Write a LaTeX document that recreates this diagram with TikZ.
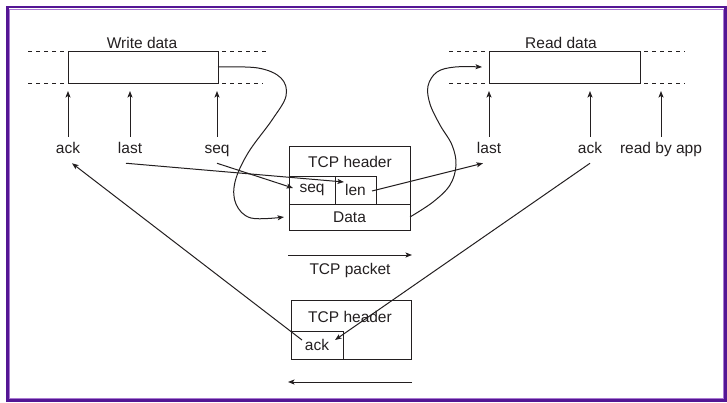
\documentclass[tikz,border=0pt]{standalone}
\usepackage{fontspec}
\setmainfont{Liberation Sans}
\usetikzlibrary{arrows.meta}
\definecolor{ink}{RGB}{35,31,32}
\definecolor{framedark}{RGB}{84,22,148}
\definecolor{framelight}{RGB}{170,120,210}
\begin{document}
\begin{tikzpicture}[x=1pt,y=-1pt,
  font=\fontsize{15.5}{18}\selectfont, color=ink, line width=1pt,
  >={Stealth[length=6.5pt,width=5pt,inset=1.5pt]},
  lbl/.style={inner sep=0pt, outer xsep=0pt, outer ysep=6pt, text height=11pt, text depth=3.5pt},
  buf/.style={draw, inner sep=0pt, outer sep=0pt, minimum height=32pt},
  cell/.style={draw, inner sep=0pt, outer sep=0pt},
  edge/.style={dash pattern=on 4pt off 4pt, dash phase=4pt},
  uparrow/.style={->, shorten >=8pt}]
  \useasboundingbox (0,0) rectangle (727,402);
  % outer frame
  \draw[framedark, line width=2.6pt] (7.5,7) rectangle (725.5,400.5);
  \draw[framelight, line width=0.6pt] (9.3,8.8) rectangle (723.7,398.7);

  % sender buffer
  \node[buf, minimum width=150pt] (wbox) at (143,67) {};
  \node at (142,43) {Write data};
  \draw[edge] (wbox.north west) -- ++(-41,0);
  \draw[edge] (wbox.south west) -- ++(-41,0);
  \draw[edge] (wbox.north east) -- ++(49,0);
  \draw[edge] (wbox.south east) -- ++(45,0);

  % receiver buffer
  \node[buf, minimum width=151pt] (rbox) at (564.5,67) {};
  \node at (561,43) {Read data};
  \draw[edge] (rbox.north west) -- ++(-41,0);
  \draw[edge] (rbox.south west) -- ++(-41,0);
  \draw[edge] (rbox.north east) -- ++(45,0);
  \draw[edge] (rbox.south east) -- ++(45,0);

  % pointer labels
  \node[lbl] (wack)  at (68,150)  {ack};
  \node[lbl] (wlast) at (130,150) {last};
  \node[lbl] (wseq)  at (217,150) {seq};
  \node[lbl] (rlast) at (489,150) {last};
  \node[lbl] (rack)  at (590,150) {ack};
  \node[lbl] (rapp)  at (661,150) {read by app};

  \foreach \p in {wack,wlast,wseq}
    \draw[uparrow] (\p.north) -- (\p.north |- wbox.south);
  \foreach \p in {rlast,rack,rapp}
    \draw[uparrow] (\p.north) -- (\p.north |- rbox.south);

  % outgoing segment
  \draw (289,146) rectangle (410,204);
  \node at (350,162) {TCP header};
  \node[cell, minimum width=46pt, minimum height=28pt] (seqc) at (312,190) {seq};
  \node[cell, minimum width=41pt, minimum height=28pt] (lenc) at (355.5,190) {len};
  \node[cell, minimum width=121pt, minimum height=26pt] (datac) at (349.5,217) {Data};

  \coordinate (pa1) at (288,255);
  \coordinate (pa2) at (412,255);
  \draw[->] (pa1) -- (pa2);
  \node at (350,270) {TCP packet};

  % returning acknowledgement
  \draw (291,300) rectangle (411,359);
  \node at (350,317) {TCP header};
  \node[cell, minimum width=52pt, minimum height=28pt] (ackc) at (317,345) {ack};

  \coordinate (pb1) at (412,382);
  \coordinate (pb2) at (288,382);
  \draw[->] (pb1) -- (pb2);

  % data flow curves
  \draw[->] plot[smooth, tension=0.6] coordinates {
    (wbox.east) (258,68) (281,78) (286,96) (272,120) (248,153)
    (235,182) (236,204) (251,218) ([xshift=-5pt]datac.west)};
  \draw[->] plot[smooth, tension=0.6] coordinates {
    (datac.east) (433,202) (450,185) (456,165) (452,145) (440,125)
    (430,104) (428,86) (437,72) (455,67) ([xshift=-7pt]rbox.west)};

  % header field connectors
  \draw[->] ([shift={(-4,0)}]wlast.south) -- ([shift={(9,6)}]lenc.north west);
  \draw[->] (wseq.south) -- ([shift={(4,-2)}]seqc.west);
  \draw[->] ([shift={(-4,1)}]lenc.east) -- ([shift={(-6,0)}]rlast.south);
  \draw[->] (rack.south) -- ([shift={(-8,9)}]ackc.north east);
  \draw[->] ([shift={(11,9)}]ackc.north west) -- ([shift={(4,0)}]wack.south);
\end{tikzpicture}
\end{document}
